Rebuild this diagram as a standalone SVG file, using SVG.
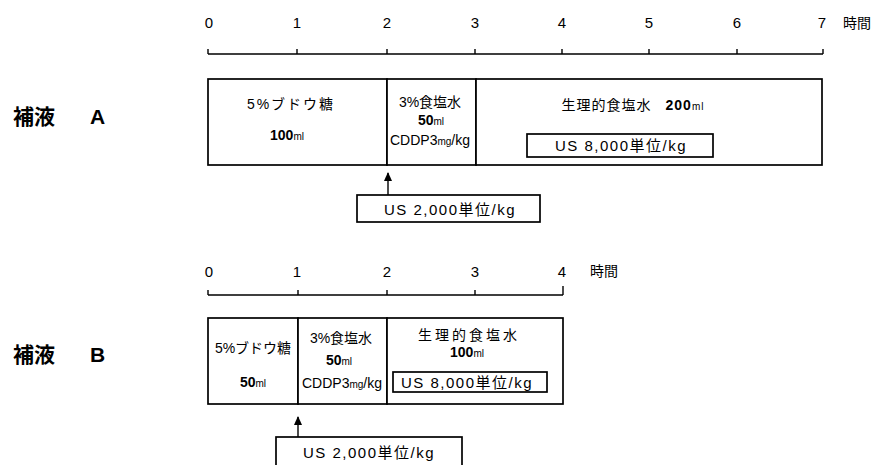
<svg xmlns="http://www.w3.org/2000/svg" width="883" height="465" viewBox="0 0 883 465">
<defs>
<marker id="ah" markerWidth="9" markerHeight="8" refX="8" refY="4" orient="auto" markerUnits="userSpaceOnUse" viewBox="0 0 9 8">
<path d="M0,0 L9,4 L0,8 Z" fill="#000"/>
</marker>
<style>
.box{fill:#fff;stroke:#000;stroke-width:1.7}
.ln{stroke:#000;stroke-width:1.4;fill:none}
.tk{font-family:"Liberation Sans","Noto Sans CJK JP",sans-serif;font-size:15px;fill:#000;text-anchor:middle}
.jp{font-family:"Liberation Sans","Noto Sans CJK JP",sans-serif;font-size:14px;fill:#000;text-anchor:middle}
.num{font-weight:bold}
.us{font-family:"Liberation Sans","Noto Sans CJK JP",sans-serif;font-size:15px;fill:#000;text-anchor:middle;letter-spacing:1.5px}
.big{font-family:"Liberation Sans","Noto Sans CJK JP",sans-serif;font-size:21px;fill:#000;font-weight:bold}
.sm{font-size:10px;font-weight:normal}
</style>
</defs>
<rect width="883" height="465" fill="#fff"/>

<g id="axisA">
<path class="ln" d="M208,54 H823 M208,49 V54 M297,49 V54 M387,49 V54 M475,49 V54 M562,49 V54 M649,49 V54 M737,49 V54 M823,49 V54"/>
<text class="tk" x="209" y="28">0</text>
<text class="tk" x="297" y="28">1</text>
<text class="tk" x="387" y="28">2</text>
<text class="tk" x="475" y="28">3</text>
<text class="tk" x="562" y="28">4</text>
<text class="tk" x="649" y="28">5</text>
<text class="tk" x="737" y="28">6</text>
<text class="tk" x="822" y="28">7</text>
<text class="jp" x="857" y="28">時間</text>
</g>

<g id="labelA">
<text class="big" x="13" y="124">補液</text>
<text class="big" x="90" y="124">A</text>
</g>

<g id="A1">
<rect class="box" x="208" y="79" width="179" height="86"/>
<text class="jp" x="291" y="109" letter-spacing="2">5%ブドウ糖</text>
<text class="jp num" x="287" y="140">100<tspan class="sm">ml</tspan></text>
</g>
<g id="A2">
<rect class="box" x="387" y="79" width="89" height="86"/>
<text class="jp" x="430" y="107">3%食塩水</text>
<text class="jp num" x="431" y="125">50<tspan class="sm">ml</tspan></text>
<text class="jp" x="430" y="145" font-size="12">CDDP3<tspan class="sm">mg</tspan>/kg</text>
</g>
<g id="A3">
<rect class="box" x="476" y="79" width="346" height="86"/>
<text class="jp" x="633" y="110" letter-spacing="1">生理的食塩水<tspan dx="14" class="num">200</tspan><tspan class="sm">ml</tspan></text>
<rect class="box" x="527" y="134" width="186" height="23"/>
<text class="us" x="621" y="151">US 8,000単位/kg</text>
</g>
<g id="A4">
<rect class="box" x="357" y="195" width="183" height="27"/>
<text class="us" x="450" y="215">US 2,000単位/kg</text>
</g>

<g id="axisB">
<path class="ln" d="M208,295 H563 M208,290 V295 M298,290 V295 M387,290 V295 M475,290 V295 M563,286 V295"/>
<text class="tk" x="209" y="277">0</text>
<text class="tk" x="297" y="277">1</text>
<text class="tk" x="387" y="277">2</text>
<text class="tk" x="475" y="277">3</text>
<text class="tk" x="562" y="277">4</text>
<text class="jp" x="604" y="276">時間</text>
</g>

<g id="labelB">
<text class="big" x="13" y="362">補液</text>
<text class="big" x="90" y="362">B</text>
</g>

<g id="B1">
<rect class="box" x="208" y="318" width="90" height="86"/>
<text class="jp" x="253" y="353">5%ブドウ糖</text>
<text class="jp num" x="253" y="387">50<tspan class="sm">ml</tspan></text>
</g>
<g id="B2">
<rect class="box" x="298" y="318" width="89" height="86"/>
<text class="jp" x="341" y="343">3%食塩水</text>
<text class="jp num" x="339" y="365">50<tspan class="sm">ml</tspan></text>
<text class="jp" x="342" y="388" font-size="12">CDDP3<tspan class="sm">mg</tspan>/kg</text>
</g>
<g id="B3">
<rect class="box" x="387" y="318" width="176" height="86"/>
<text class="jp" x="469" y="340" letter-spacing="3">生理的食塩水</text>
<text class="jp num" x="467" y="357">100<tspan class="sm">ml</tspan></text>
<rect class="box" x="393" y="372" width="154" height="20"/>
<text class="us" x="467" y="388" letter-spacing="1">US 8,000単位/kg</text>
</g>
<g id="B4">
<rect class="box" x="276" y="437" width="186" height="40"/>
<text class="us" x="369" y="458">US 2,000単位/kg</text>
</g>

<g id="connectors">
<line class="ln" x1="388" y1="195" x2="388" y2="173" marker-end="url(#ah)"/>
<line class="ln" x1="298" y1="437" x2="298" y2="417" marker-end="url(#ah)"/>
</g>
</svg>
